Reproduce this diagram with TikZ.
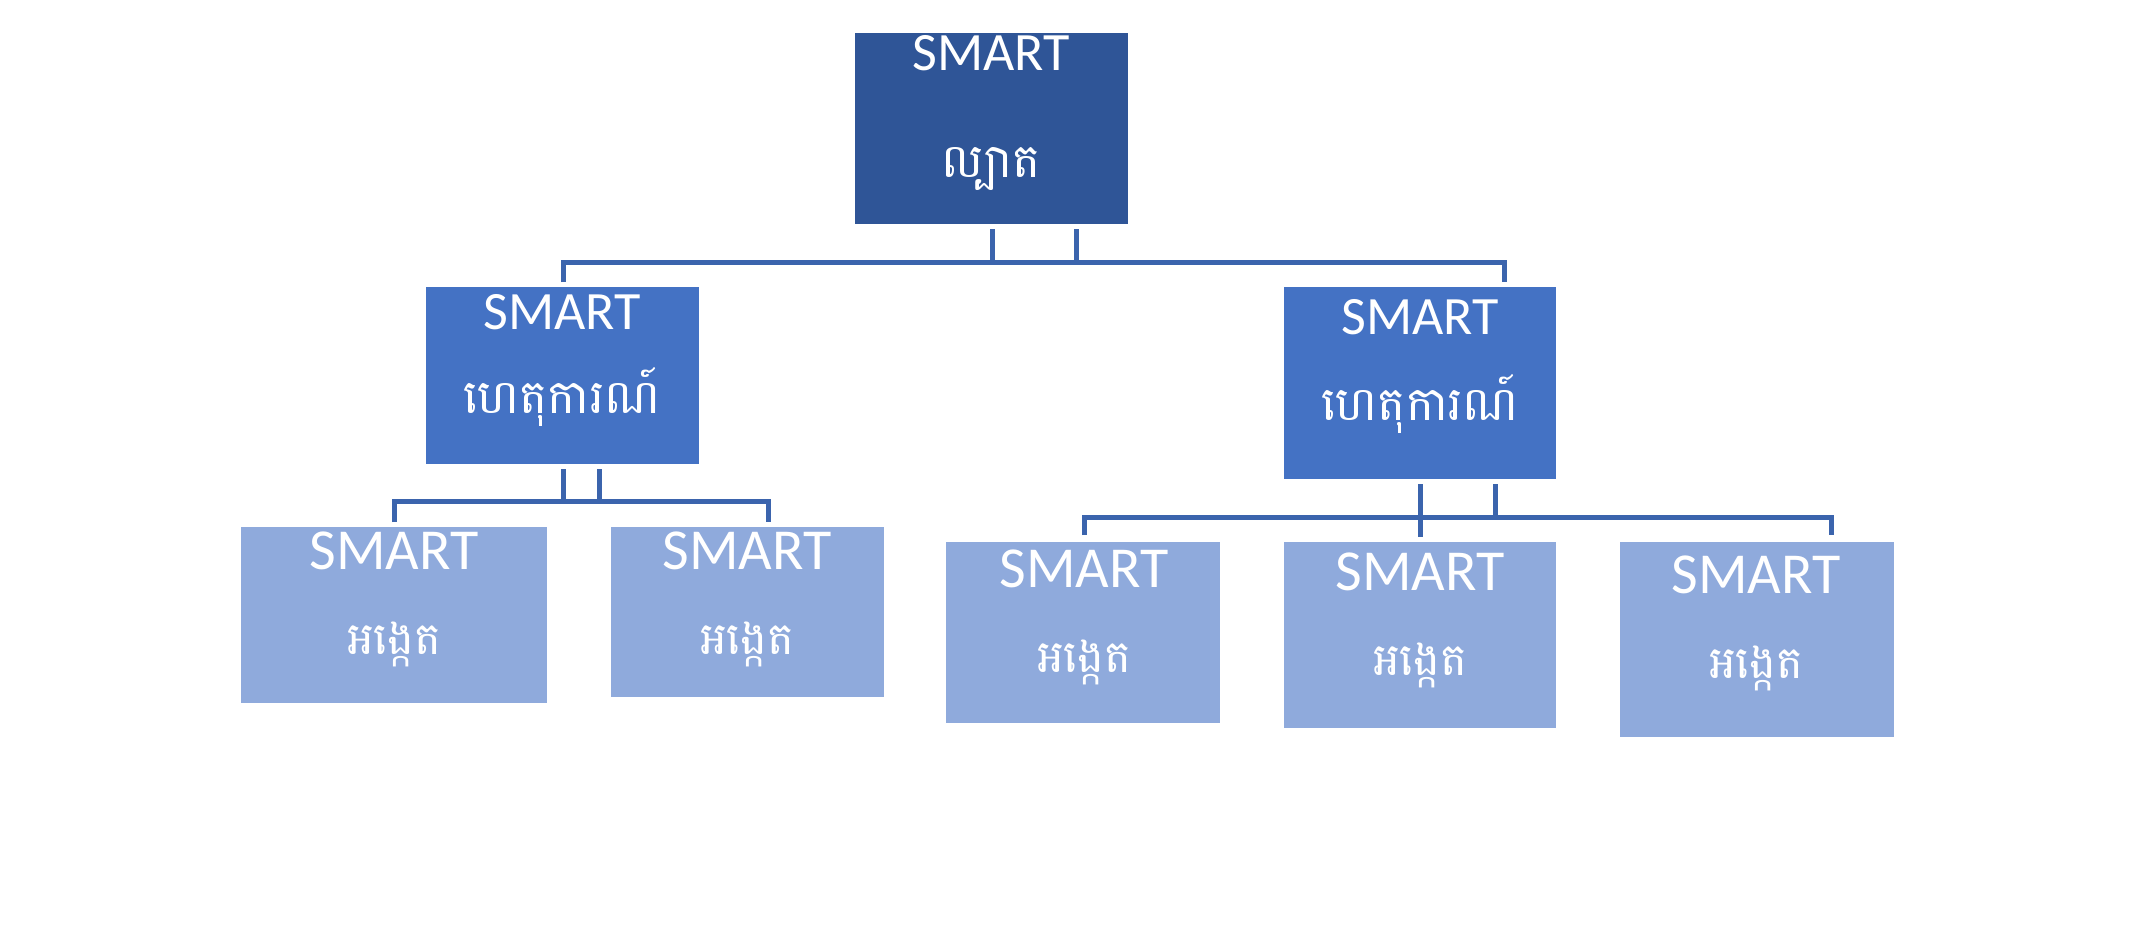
\documentclass[tikz,border=0pt]{standalone}
\usepackage{fontspec}
\setmainfont{Carlito}
\newfontfamily\khmer[Script=Khmer]{Battambang}
\definecolor{cTop}{HTML}{2F5597}
\definecolor{cMid}{HTML}{4472C4}
\definecolor{cBot}{HTML}{8FAADC}
\definecolor{cLine}{HTML}{3B64AD}
\tikzset{
  boxnode/.style={draw=none, inner sep=0pt, outer sep=0pt},
  smartA/.style={text=white, inner sep=0pt, anchor=base, font=\fontsize{54}{60}\selectfont},
  smartB/.style={text=white, inner sep=0pt, anchor=base, font=\fontsize{58}{64}\selectfont},
  kmA/.style={text=white, inner sep=0pt, anchor=base, font=\khmer\fontsize{47}{52}\selectfont},
  kmB/.style={text=white, inner sep=0pt, anchor=base, font=\khmer\fontsize{45}{50}\selectfont},
  conn/.style={draw=cLine, line width=5pt}
}
\begin{document}
\begin{tikzpicture}[x=1pt,y=-1pt]
\fill[white] (0,0) rectangle (2135,930);
\useasboundingbox (0,0) rectangle (2135,930);
% boxes
\node[boxnode, fill=cTop, minimum width=273pt, minimum height=191pt] (top) at (991.5,128.5) {};
\node[boxnode, fill=cMid, minimum width=273pt, minimum height=177pt] (midL) at (562.5,375.5) {};
\node[boxnode, fill=cMid, minimum width=272pt, minimum height=192pt] (midR) at (1420,383) {};
\node[boxnode, fill=cBot, minimum width=306pt, minimum height=176pt] (b1) at (394,615) {};
\node[boxnode, fill=cBot, minimum width=273pt, minimum height=170pt] (b2) at (747.5,612) {};
\node[boxnode, fill=cBot, minimum width=274pt, minimum height=181pt] (b3) at (1083,632.5) {};
\node[boxnode, fill=cBot, minimum width=272pt, minimum height=186pt] (b4) at (1420,635) {};
\node[boxnode, fill=cBot, minimum width=274pt, minimum height=195pt] (b5) at (1757,639.5) {};
% texts
\node[smartA] (topS) at (991,70) {SMART};
\node[kmA] (topK) at (991,177) {ល្បាត};
\node[smartA] (midLS) at (562,329) {SMART};
\node[kmA] (midLK) at (562,413) {ហេតុការណ៍};
\node[smartA] (midRS) at (1420,334) {SMART};
\node[kmA] (midRK) at (1420,420) {ហេតុការណ៍};
\node[smartB] (b1S) at (394,569) {SMART};
\node[kmB] (b1K) at (394,654) {អង្កេត};
\node[smartB] (b2S) at (747,569) {SMART};
\node[kmB] (b2K) at (747,654) {អង្កេត};
\node[smartB] (b3S) at (1084,587) {SMART};
\node[kmB] (b3K) at (1084,672) {អង្កេត};
\node[smartB] (b4S) at (1420,590) {SMART};
\node[kmB] (b4K) at (1420,675) {អង្កេត};
\node[smartB] (b5S) at (1756,593) {SMART};
\node[kmB] (b5K) at (1756,678) {អង្កេត};
% junction coordinates
\coordinate (t1) at (992,229);
\coordinate (t2) at (1076,229);
\coordinate (th1) at (992,262);
\coordinate (th2) at (1076,262);
\coordinate (tl) at (563,262);
\coordinate (tr) at (1504,262);
\coordinate (tlD) at (563,282);
\coordinate (trD) at (1504,282);
\coordinate (l1) at (563,469);
\coordinate (l2) at (599,469);
\coordinate (lh1) at (563,501);
\coordinate (lh2) at (599,501);
\coordinate (ll) at (394,501);
\coordinate (lr) at (768,501);
\coordinate (llD) at (394,522);
\coordinate (lrD) at (768,522);
\coordinate (r1) at (1420,484);
\coordinate (r1D) at (1420,537);
\coordinate (r2) at (1495,484);
\coordinate (rh2) at (1495,517);
\coordinate (rl) at (1084,517);
\coordinate (rr) at (1831,517);
\coordinate (rlD) at (1084,535);
\coordinate (rrD) at (1831,535);
% connectors
\draw[conn] (t1) -- (th1);
\draw[conn] (t2) -- (th2);
\draw[conn] (tlD) -- (tl) -- (tr) -- (trD);
\draw[conn] (l1) -- (lh1);
\draw[conn] (l2) -- (lh2);
\draw[conn] (llD) -- (ll) -- (lr) -- (lrD);
\draw[conn] (r1) -- (r1D);
\draw[conn] (r2) -- (rh2);
\draw[conn] (rlD) -- (rl) -- (rr) -- (rrD);
\end{tikzpicture}
\end{document}
